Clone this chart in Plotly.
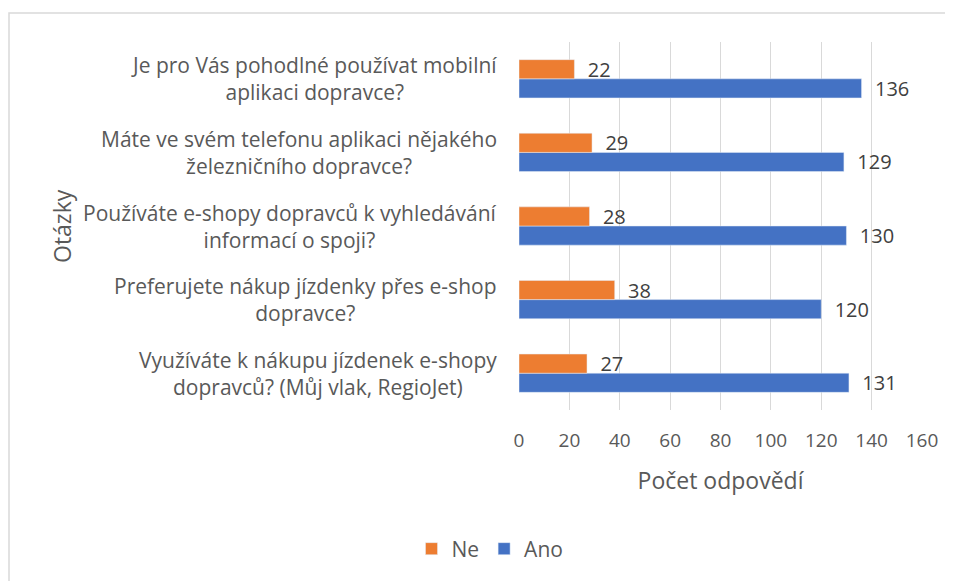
import plotly.graph_objects as go

# Data (listed top to bottom as in the reference)
questions = [
    "Je pro Vás pohodlné používat mobilní<br>aplikaci dopravce?",
    "Máte ve svém telefonu aplikaci nějakého<br>železničního dopravce?",
    "Používáte e-shopy dopravců k vyhledávání<br>informací o spoji?",
    "Preferujete nákup jízdenky přes e-shop<br>dopravce?",
    "Využíváte k nákupu jízdenek e-shopy<br>dopravců? (Můj vlak, RegioJet)",
]
ne_values = [22, 29, 28, 38, 27]
ano_values = [136, 129, 130, 120, 131]
x_ticks = [0, 20, 40, 60, 80, 100, 120, 140, 160]

cats = list(range(len(questions)))[::-1]  # first question on top

OFF = 8  # default page body margin
W, H = 953 - OFF, 581 - OFF
L, R = 519 - OFF, 953 - 922
T, B = 42 - OFF, H - (410 - OFF)
pw, ph = W - L - R, H - T - B

def px_x(px):
    return (px - OFF - L) / pw

def px_y(py):
    return (H - B - (py - OFF)) / ph

TXT = "#595959"
FONT = "Open Sans"
NB = "\u00a0\u00a0"

fig = go.Figure()
fig.add_trace(go.Bar(
    y=cats, x=ano_values, name="Ano", orientation="h",
    marker=dict(color="#4472C4"),
    text=ano_values, texttemplate=NB + "%{x}", textposition="outside",
    textfont=dict(size=20, color="#404040", family=FONT),
    constraintext="none", cliponaxis=False, legendrank=2,
))
fig.add_trace(go.Bar(
    y=cats, x=ne_values, name="Ne", orientation="h",
    marker=dict(color="#ED7D31"),
    text=ne_values, texttemplate=NB + "%{x}", textposition="outside",
    textfont=dict(size=20, color="#404040", family=FONT),
    constraintext="none", cliponaxis=False, legendrank=1,
))

annotations = []
for c, q in zip(cats, questions):
    annotations.append(dict(
        x=px_x(499), xref="paper", y=c, yref="y", text=q,
        showarrow=False, xanchor="right", yanchor="middle", align="center",
        font=dict(size=21, color=TXT, family=FONT),
    ))
annotations.append(dict(
    x=px_x(62), xref="paper", y=0.5, yref="paper", text="Otázky",
    textangle=-90, showarrow=False, xanchor="center", yanchor="middle",
    font=dict(size=23, color=TXT, family=FONT),
))

fig.update_layout(
    width=W, height=H,
    margin=dict(l=L, r=R, t=T, b=B, autoexpand=False),
    paper_bgcolor="white", plot_bgcolor="white",
    barmode="group", bargap=0.48, bargroupgap=0,
    font=dict(family=FONT, color=TXT),
    showlegend=True,
    legend=dict(
        orientation="h", x=px_x(490), xanchor="center",
        y=px_y(549), yanchor="middle",
        font=dict(size=21, color=TXT, family=FONT),
        itemwidth=30,
    ),
    xaxis=dict(
        range=[0, 160], tickvals=x_ticks, ticktext=[str(v) for v in x_ticks],
        showgrid=True, gridcolor="#D9D9D9", gridwidth=1.3,
        zeroline=False, showline=False,
        tickfont=dict(size=19, color=TXT, family=FONT),
        ticklabelstandoff=17,
        title=dict(text="Počet odpovědí", standoff=20,
                   font=dict(size=23, color=TXT, family=FONT)),
        fixedrange=True,
    ),
    yaxis=dict(
        tickvals=cats, showticklabels=False, showgrid=False,
        zeroline=False, showline=False, range=[-0.5, len(questions) - 0.5],
        fixedrange=True,
    ),
    annotations=annotations,
    shapes=[dict(
        type="rect", xref="paper", yref="paper",
        x0=px_x(9), x1=px_x(1100), y0=px_y(700), y1=px_y(13),
        line=dict(color="#D9D9D9", width=1.5), fillcolor="rgba(0,0,0,0)",
        layer="below",
    )],
)

fig.write_html("out.html")
